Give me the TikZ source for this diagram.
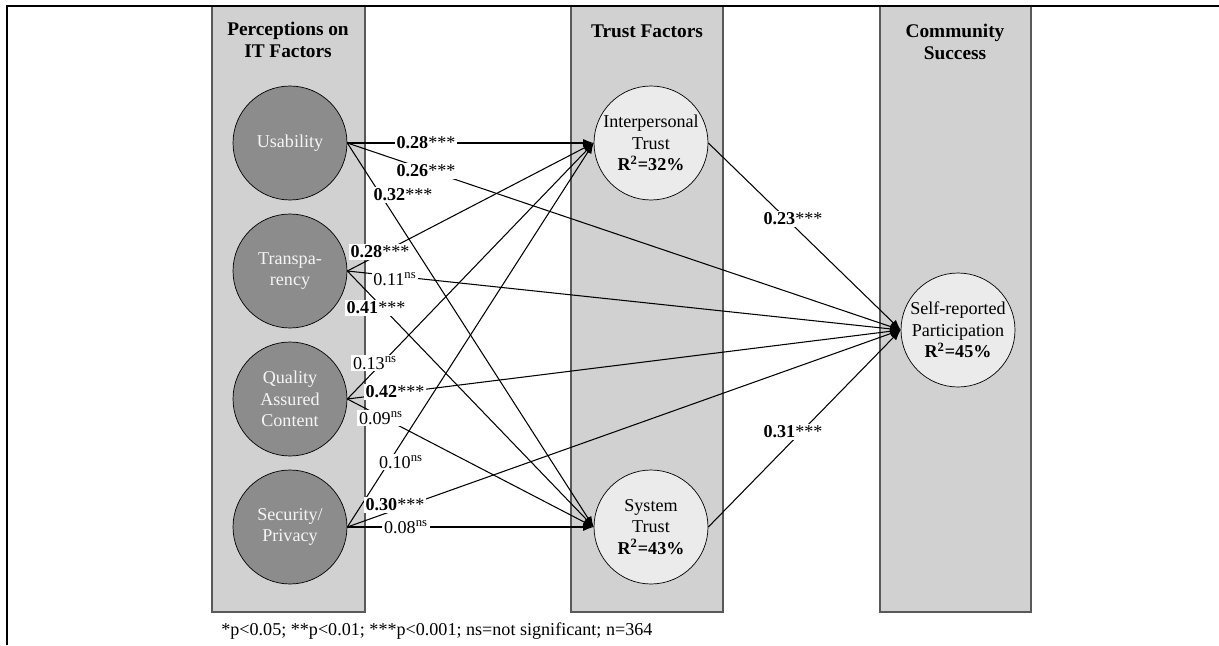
\documentclass[tikz,border=0pt]{standalone}
\usepackage{fontspec}
\setmainfont{Liberation Serif}
\usetikzlibrary{arrows.meta}
\usetikzlibrary{positioning}

\definecolor{colgray}{gray}{0.82}
\definecolor{colline}{gray}{0.35}
\definecolor{srcgray}{gray}{0.55}
\definecolor{tgtgray}{gray}{0.92}
\definecolor{srctext}{gray}{0.96}

\tikzset{
  column/.style={fill=colgray,draw=colline,line width=0.6pt},
  header/.style={font=\fontsize{11}{12.8}\selectfont\bfseries,align=center},
  itfactor/.style={circle,draw=black,fill=srcgray,minimum size=2.28cm,inner sep=0pt,
    align=center,text=srctext,font=\fontsize{10.3}{12.2}\selectfont},
  outcome/.style={itfactor,fill=tgtgray,text=black},
  link/.style={line width=0.6pt,-{Latex[length=2.1mm,width=1.6mm]}},
  coef/.style={fill=white,inner sep=1pt,font=\fontsize{10.3}{12.2}\selectfont}
}

\begin{document}
\begin{tikzpicture}[x=0.02cm,y=-0.02cm]
\useasboundingbox (0,0) rectangle (1219,645);
\draw[column] (212,6) rectangle (365,612);
\draw[column] (571,6) rectangle (723,612);
\draw[column] (880,6) rectangle (1031,612);
\draw[line width=1.2pt] (7,645) -- (7,6) -- (1219,6);

\node[header] (hit) at (288,40) {Perceptions on\\IT Factors};
\node[header] (htrust) at (647,31) {Trust Factors};
\node[header] (hcomm) at (955,42) {Community\\Success};

\node[itfactor] (usab) at (290,143) {Usability};
\node[itfactor] (transp) at (290,271) {Transpa-\\rency};
\node[itfactor] (quality) at (290,399) {Quality\\Assured\\Content};
\node[itfactor] (secur) at (290,527) {Security/\\Privacy};
\node[outcome] (itrust) at (651,143) {Interpersonal\\Trust\\\textbf{R\textsuperscript{2}=32\%}};
\node[outcome] (strust) at (651,527) {System\\Trust\\\textbf{R\textsuperscript{2}=43\%}};
\node[outcome] (partic) at (958,330) {Self-reported\\Participation\\\textbf{R\textsuperscript{2}=45\%}};

\draw[link] (usab.east) -- (itrust.west);
\draw[link] (usab.east) -- (partic.west);
\draw[link] (usab.east) -- (strust.west);
\draw[link] (transp.east) -- (itrust.west);
\draw[link] (transp.east) -- (partic.west);
\draw[link] (transp.east) -- (strust.west);
\draw[link] (quality.east) -- (itrust.west);
\draw[link] (quality.east) -- (partic.west);
\draw[link] (quality.east) -- (strust.west);
\draw[link] (secur.east) -- (itrust.west);
\draw[link] (secur.east) -- (partic.west);
\draw[link] (secur.east) -- (strust.west);
\draw[link] (itrust.east) -- (partic.west);
\draw[link] (strust.east) -- (partic.west);

\node[coef] (cui) at (426,143) {\textbf{0.28}***};
\node[coef] (cup) at (426,171) {\textbf{0.26}***};
\node[coef] (cus) at (403,195) {\textbf{0.32}***};
\node[coef] (cti) at (380,252) {\textbf{0.28}***};
\node[coef] (ctp) at (395,279) {0.11\textsuperscript{ns}};
\node[coef] (cts) at (376,308) {\textbf{0.41}***};
\node[coef] (cqi) at (375,363) {0.13\textsuperscript{ns}};
\node[coef] (cqp) at (395,392) {\textbf{0.42}***};
\node[coef] (cqs) at (381,418) {0.09\textsuperscript{ns}};
\node[coef] (csi) at (401,462) {0.10\textsuperscript{ns}};
\node[coef] (csp) at (395,505) {\textbf{0.30}***};
\node[coef] (css) at (406,527) {0.08\textsuperscript{ns}};
\node[coef] (cip) at (793,219) {\textbf{0.23}***};
\node[coef] (csyp) at (793,432) {\textbf{0.31}***};

\node[font=\fontsize{10.3}{12.2}\selectfont,anchor=west,inner sep=0pt] (note) at (221,631)
  {*p<0.05; **p<0.01; ***p<0.001; ns=not significant; n=364};
\end{tikzpicture}
\end{document}
